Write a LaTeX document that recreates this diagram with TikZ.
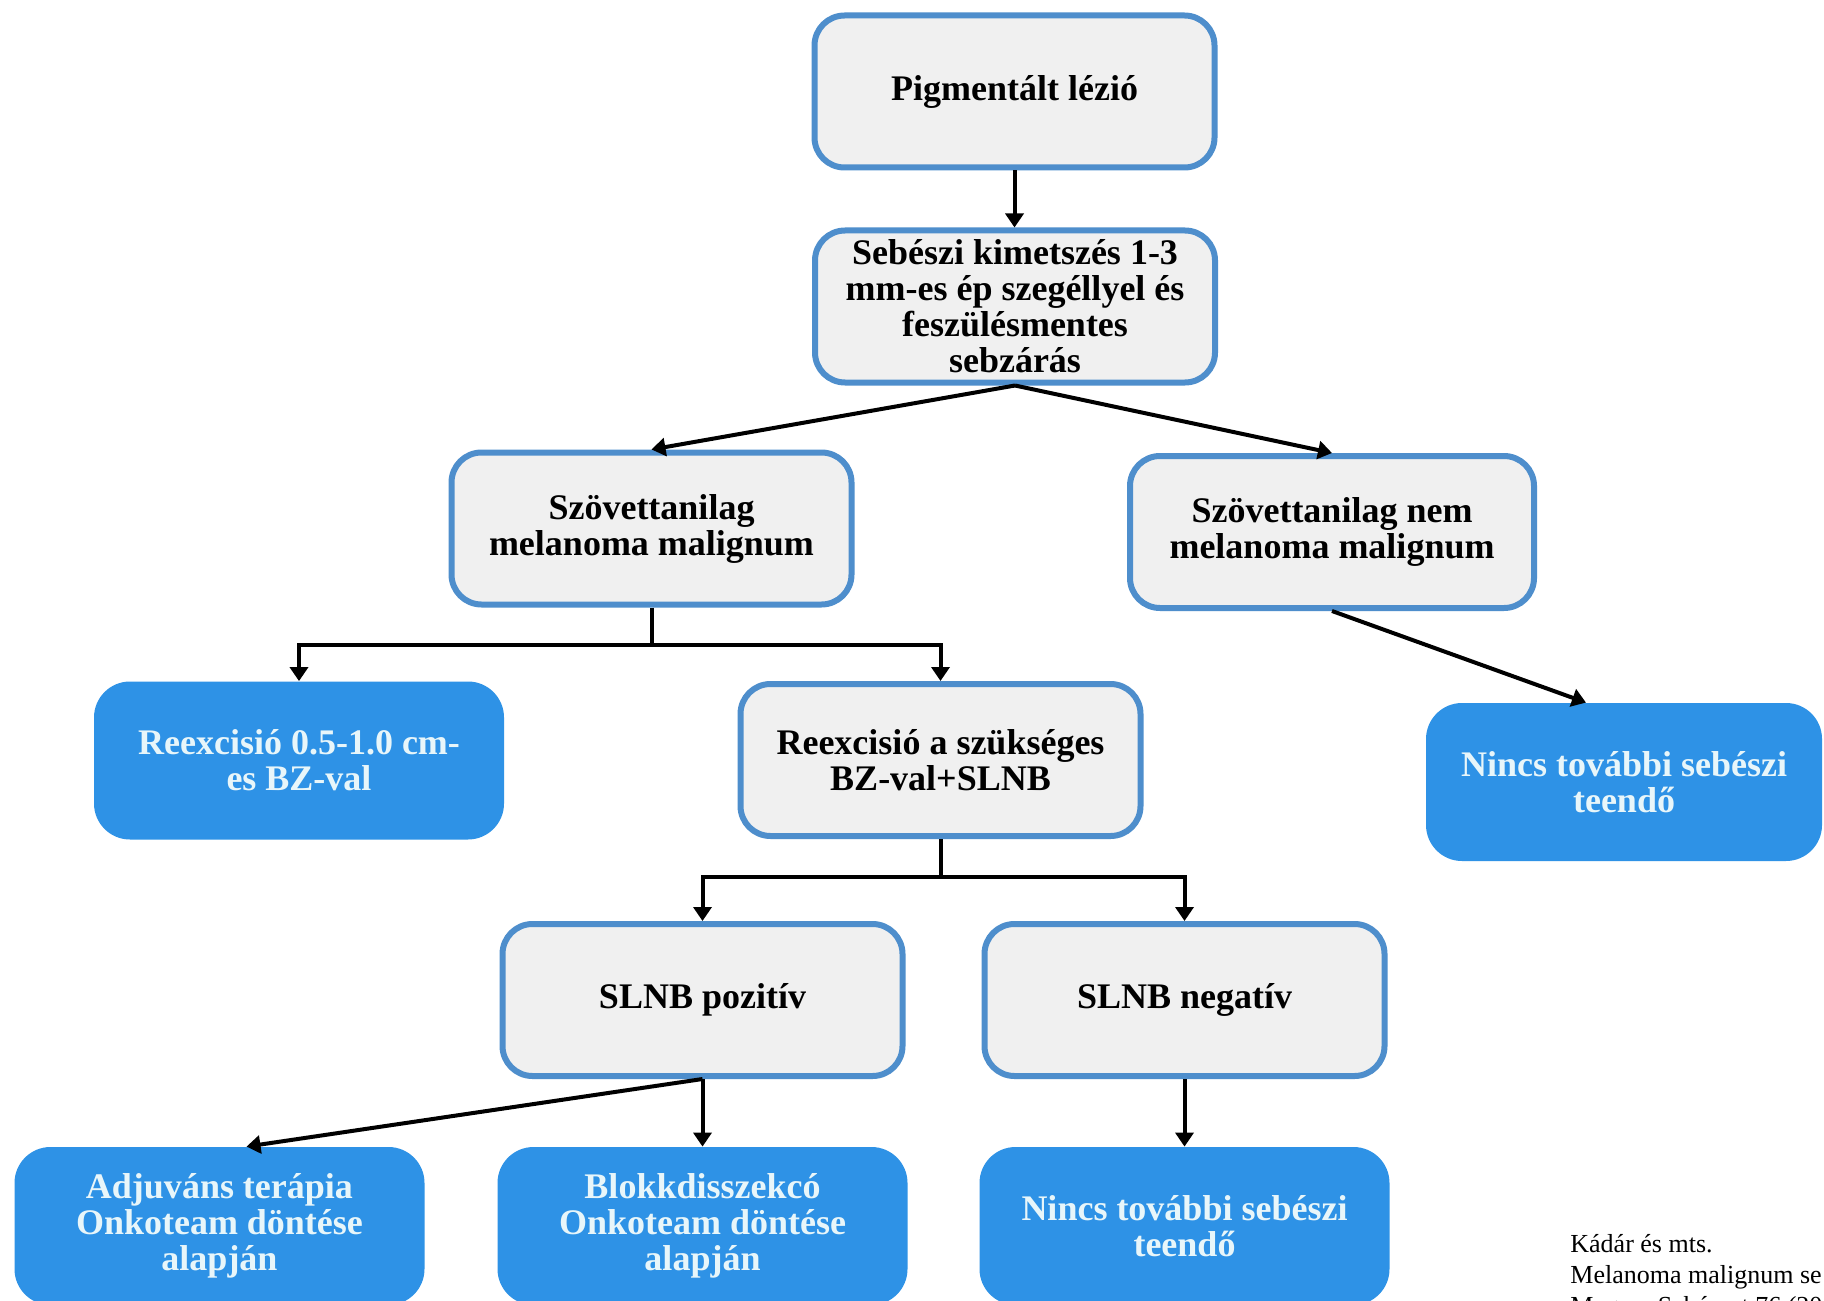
\documentclass[tikz,border=0pt]{standalone}
\usepackage{fontspec}
\setmainfont{Liberation Serif}
\usetikzlibrary{arrows.meta,calc}
\definecolor{gfill}{RGB}{240,240,240}
\definecolor{gborder}{RGB}{78,142,204}
\definecolor{bfill}{RGB}{46,146,230}
\definecolor{btext}{RGB}{232,246,250}
\begin{document}
\begin{tikzpicture}[x=0.5pt,y=-0.5pt,
  gbox/.style={draw=gborder, line width=3pt, fill=gfill, rounded corners=15pt,
    minimum width=200pt, minimum height=76pt, align=center, inner sep=0pt,
    text=black, font=\bfseries\fontsize{18}{18}\selectfont},
  bbox/.style={fill=bfill, rounded corners=18pt, minimum width=205pt,
    minimum height=79pt, align=center, inner sep=0pt, text=btext,
    font=\bfseries\fontsize{18}{18}\selectfont},
  arr/.style={-{Triangle[width=9pt,length=7pt]}, line width=2pt, black},
  ln/.style={line width=2pt, black},
  cite/.style={anchor=base west, inner sep=0pt, font=\fontsize{13}{13}\selectfont}]
\useasboundingbox (0,0) rectangle (1824,1300);
\clip (0,0) rectangle (1824,1300);
\fill[white] (0,0) rectangle (1824,1300);

\node[gbox] (pig) at (1014.5,91.5) {Pigmentált lézió};
\node[gbox] (seb) at (1015,306.5) {Sebészi kimetszés 1-3\\ mm-es ép szegéllyel és\\ feszülésmentes\\ sebzárás};
\node[gbox] (mm) at (651.5,528.5) {Szövettanilag\\ melanoma malignum};
\node[gbox, minimum width=202pt] (nem) at (1332,532) {Szövettanilag nem\\ melanoma malignum};
\node[bbox] (re1) at (299,760.5) {Reexcisió 0.5-1.0 cm-\\ es BZ-val};
\node[gbox] (re2) at (940.5,760) {Reexcisió a szükséges\\ BZ-val+SLNB};
\node[bbox, minimum width=198pt] (nin1) at (1624,782) {Nincs további sebészi\\ teendő};
\node[gbox] (poz) at (702.5,1000) {SLNB pozitív};
\node[gbox] (neg) at (1184.5,1000) {SLNB negatív};
\node[bbox] (adj) at (219.5,1226) {Adjuváns terápia\\ Onkoteam döntése\\ alapján};
\node[bbox] (blo) at (702.5,1226) {Blokkdisszekcó\\ Onkoteam döntése\\ alapján};
\node[bbox] (nin2) at (1184.5,1226) {Nincs további sebészi\\ teendő};

\node[cite] (c1) at (1570,1252) {Kádár és mts.};
\node[cite] (c2) at (1570,1283) {Melanoma malignum se};
\node[cite] (c3) at (1570,1314) {Magyar Sebészet 76 (20};

\draw[arr] (pig.south) -- (pig.south |- seb.north);
\draw[arr] (seb.south) -- (mm.north);
\draw[arr] (seb.south) -- (nem.north);
\draw[ln] (mm.south) -- ++(0,37) coordinate (j1);
\draw[arr] (j1) -| (re1.north);
\draw[arr] (j1) -| (re2.north);
\draw[arr] (nem.south) -- ($(nin1.north)+(-38,0)$);
\draw[ln] (re2.south) -- ++(0,38) coordinate (j2);
\draw[arr] (j2) -| (poz.north);
\draw[arr] (j2) -| (neg.north);
\draw[arr] (poz.south) -- ($(adj.north)+(27,0)$);
\draw[arr] (poz.south) -- (blo.north);
\draw[arr] (neg.south) -- (nin2.north);
\end{tikzpicture}
\end{document}
